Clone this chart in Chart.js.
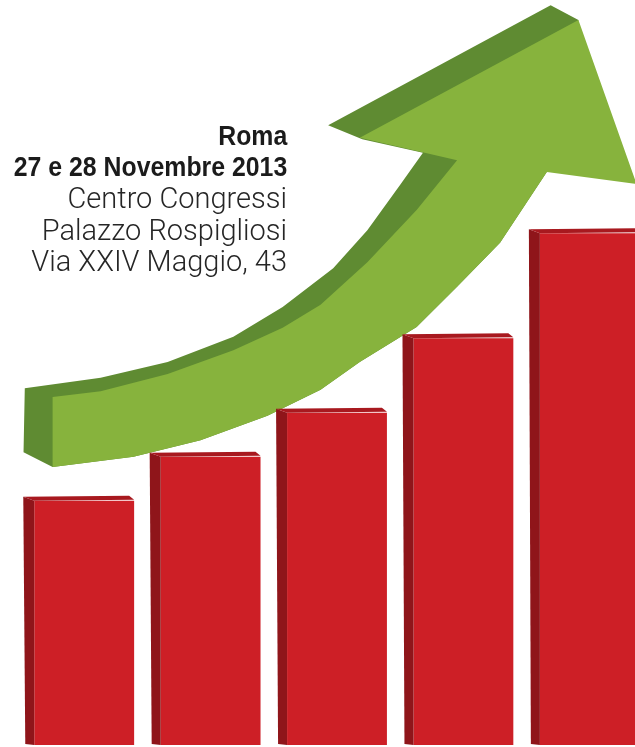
<!DOCTYPE html>
<html>
<head>
<meta charset="utf-8">
<script src="https://cdn.jsdelivr.net/npm/chart.js@4.4.1/dist/chart.umd.min.js"></script>
<style>
  html, body { margin: 0; padding: 0; background: #fff; width: 635px; height: 747px; overflow: hidden; }
  #wrap { position: absolute; left: 0; top: 0; width: 653px; height: 747px; }
  #info { position: absolute; right: 348px; top: 121px; text-align: right; white-space: nowrap; }
  #info .b { font-family: "Liberation Sans", Arial, sans-serif; font-weight: bold; font-size: 27px;
             line-height: 31px; color: #1b1b1b; transform: scaleX(0.92); transform-origin: right center; }
  #info .l { font-family: Roboto, "Liberation Sans", sans-serif; font-weight: 300; font-size: 29px;
             line-height: 31.5px; color: #262626; }
</style>
</head>
<body>
<div id="wrap"><canvas id="chart" width="653" height="747"></canvas></div>
<div id="info">
  <div class="b">Roma</div>
  <div class="b">27 e 28 Novembre 2013</div>
  <div class="l">Centro Congressi</div>
  <div class="l">Palazzo Rospigliosi</div>
  <div class="l">Via XXIV Maggio, 43</div>
</div>
<script>
// bars
const categories = ['1', '2', '3', '4', '5'];
const barValues = [32.8, 38.7, 44.6, 54.6, 68.7];

// arrow outline, x in bar slots (0..5), y in bar units
const arrowFrontX = [0.25, 0.63, 1.16, 1.68, 2.07, 2.37, 2.74, 3.13, 3.45, 2.68, 4.41, 4.87, 4.16, 3.79, 3.45, 3.13, 2.68, 2.37, 1.95, 1.42, 0.89, 0.25];
const arrowFrontY = [46.7, 47.5, 49.8, 53.0, 56.0, 59.1, 64.8, 71.8, 78.5, 81.5, 97.3, 75.3, 76.9, 67.4, 61.5, 56.1, 51.4, 47.7, 44.2, 40.9, 38.7, 37.3];
const arrowSideX = [0.02, 0.03, 0.63, 1.16, 1.68, 2.07, 2.47, 2.74, 3.00, 3.18, 2.70, 2.43, 4.19, 4.41, 4.16, 3.79, 3.45, 3.13, 2.68, 2.37, 1.95, 1.42, 0.89, 0.25];
const arrowSideY = [39.3, 47.9, 49.3, 51.4, 54.8, 58.8, 64.0, 69.1, 75.2, 79.5, 81.3, 83.2, 99.3, 97.3, 76.9, 67.4, 61.5, 56.1, 51.4, 47.7, 44.2, 40.9, 38.7, 37.3];

const toPoints = (xs, ys) => xs.map((x, i) => ({ x: x, y: ys[i] }));

const arrowPlugin = {
    id: 'arrowFaces',
    beforeDatasetsDraw(chart) {
        const ctx = chart.ctx;
        chart.data.datasets.forEach((ds, i) => {
            if (!ds.polygon) return;
            const pts = chart.getDatasetMeta(i).data;
            ctx.save();
            ctx.beginPath();
            pts.forEach((p, j) => j ? ctx.lineTo(p.x, p.y) : ctx.moveTo(p.x, p.y));
            ctx.closePath();
            ctx.fillStyle = ds.backgroundColor;
            ctx.fill();
            ctx.restore();
        });
    }
};

// side and top faces of the 3d bars
const barSides = {
    id: 'barSides',
    afterDatasetsDraw(chart) {
        const ctx = chart.ctx;
        chart.getDatasetMeta(0).data.forEach(bar => {
            const left = bar.x - bar.width / 2;
            const right = bar.x + bar.width / 2;
            const depth = 11;
            ctx.save();
            ctx.fillStyle = '#8f151a';
            ctx.beginPath();
            ctx.moveTo(left - depth, bar.y - 4);
            ctx.lineTo(left, bar.y);
            ctx.lineTo(left, bar.base);
            ctx.lineTo(left - depth + 2, bar.base - 1);
            ctx.closePath();
            ctx.fill();
            ctx.fillStyle = '#a8191f';
            ctx.beginPath();
            ctx.moveTo(left - depth, bar.y - 4);
            ctx.lineTo(right - 5, bar.y - 5);
            ctx.lineTo(right, bar.y - 1);
            ctx.lineTo(left, bar.y);
            ctx.closePath();
            ctx.fill();
            ctx.restore();
        });
    }
};

new Chart(document.getElementById('chart'), {
    type: 'bar',
    data: {
        labels: categories,
        datasets: [
            {
                data: barValues,
                backgroundColor: '#cd1f26',
                borderWidth: 0,
                grouped: false,
                barPercentage: 0.79,
                categoryPercentage: 1
            },
            {
                type: 'line',
                polygon: true,
                data: toPoints(arrowSideX, arrowSideY),
                xAxisID: 'xa',
                backgroundColor: '#5f8b32',
                showLine: false,
                pointRadius: 0
            },
            {
                type: 'line',
                polygon: true,
                data: toPoints(arrowFrontX, arrowFrontY),
                xAxisID: 'xa',
                backgroundColor: '#87b33d',
                showLine: false,
                pointRadius: 0
            }
        ]
    },
    options: {
        responsive: false,
        animation: false,
        layout: { padding: { left: 21, right: 0, top: 0, bottom: 2 } },
        plugins: { legend: { display: false }, tooltip: { enabled: false } },
        scales: {
            x: { display: false, offset: true },
            xa: { type: 'linear', display: false, offset: false, min: 0, max: 5 },
            y: { display: false, min: 0, max: 100 }
        }
    },
    plugins: [arrowPlugin, barSides]
});
</script>
</body>
</html>
